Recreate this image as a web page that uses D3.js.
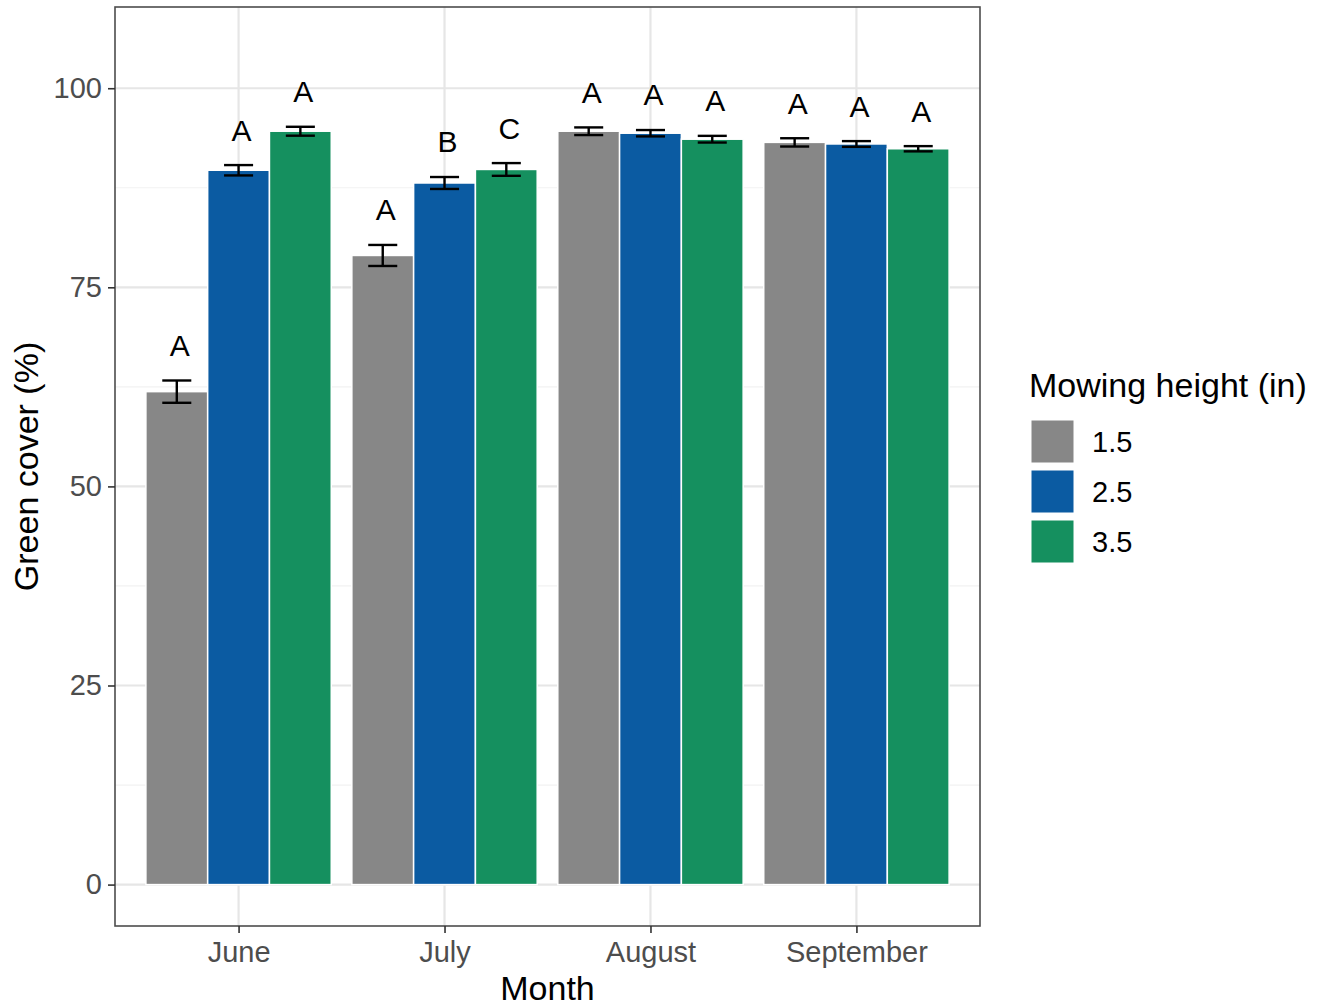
<!DOCTYPE html>
<html>
<head>
<meta charset="utf-8">
<script src="https://cdn.jsdelivr.net/npm/d3@7"></script>
<style>
  html, body { margin: 0; padding: 0; background: #fff; }
  svg { display: block; font-family: "Liberation Sans", Arial, sans-serif; }
</style>
</head>
<body>
<svg id="chart" width="1322" height="1008"></svg>
<script>
// Green cover by month and mowing height (mean ± SE, with letter groupings)
const months = ["June", "July", "August", "September"];
const heights = ["1.5", "2.5", "3.5"];
const colors = ["#878787", "#0B5BA2", "#15905F"];

// mean green cover (%) per height, in month order
const cover15 = [61.9, 79.0, 94.6, 93.2];
const cover25 = [89.7, 88.1, 94.35, 93.0];
const cover35 = [94.6, 89.8, 93.6, 92.4];

// standard errors
const se15 = [1.4, 1.32, 0.48, 0.52];
const se25 = [0.65, 0.75, 0.4, 0.36];
const se35 = [0.56, 0.8, 0.42, 0.33];

// letter groups
const letters15 = ["A", "A", "A", "A"];
const letters25 = ["A", "B", "A", "A"];
const letters35 = ["A", "C", "A", "A"];

const yTicks = [0, 25, 50, 75, 100];
const yMinor = [12.5, 37.5, 62.5, 87.5];

const series = [
  { h: heights[0], mean: cover15, se: se15, lab: letters15 },
  { h: heights[1], mean: cover25, se: se25, lab: letters25 },
  { h: heights[2], mean: cover35, se: se35, lab: letters35 }
];
const rows = [];
series.forEach((s, si) => months.forEach((m, mi) => rows.push({
  month: m, h: s.h, si, mean: s.mean[mi], se: s.se[mi], lab: s.lab[mi]
})));

const svg = d3.select("#chart");
const P = { left: 115, right: 980, top: 7, bottom: 926 };

const x = d3.scalePoint().domain(months).range([P.left, P.right]).padding(0.6);
const step = x.step();
const xi = d3.scaleBand().domain(heights).range([-0.45 * step, 0.45 * step]).padding(0);
const y = d3.scaleLinear().domain([-5.2, 110.2]).range([P.bottom, P.top]);
const color = d3.scaleOrdinal().domain(heights).range(colors);

// grid
const grid = svg.append("g");
grid.selectAll(".minor").data(yMinor).join("line")
  .attr("x1", P.left).attr("x2", P.right)
  .attr("y1", d => y(d)).attr("y2", d => y(d))
  .attr("stroke", "#f2f2f2").attr("stroke-width", 1.2);
grid.selectAll(".major").data(yTicks).join("line")
  .attr("x1", P.left).attr("x2", P.right)
  .attr("y1", d => y(d)).attr("y2", d => y(d))
  .attr("stroke", "#e6e6e6").attr("stroke-width", 2.2);
grid.selectAll(".vmajor").data(months).join("line")
  .attr("y1", P.top).attr("y2", P.bottom)
  .attr("x1", d => x(d)).attr("x2", d => x(d))
  .attr("stroke", "#e6e6e6").attr("stroke-width", 2.2);

// bars
svg.append("g").selectAll("rect").data(rows).join("rect")
  .attr("x", d => x(d.month) + xi(d.h))
  .attr("width", xi.bandwidth())
  .attr("y", d => y(d.mean))
  .attr("height", d => y(0) - y(d.mean))
  .attr("fill", d => color(d.h))
  .attr("stroke", "#ffffff").attr("stroke-width", 1.5);

// error bars
const capHalf = xi.bandwidth() * 0.235;
const eb = svg.append("g").attr("stroke", "#000").attr("stroke-width", 2.4).attr("fill", "none");
rows.forEach(d => {
  const cx = x(d.month) + xi(d.h) + xi.bandwidth() / 2;
  const y1 = y(d.mean + d.se), y0 = y(d.mean - d.se);
  eb.append("line").attr("x1", cx).attr("x2", cx).attr("y1", y1).attr("y2", y0);
  eb.append("line").attr("x1", cx - capHalf).attr("x2", cx + capHalf).attr("y1", y1).attr("y2", y1);
  eb.append("line").attr("x1", cx - capHalf).attr("x2", cx + capHalf).attr("y1", y0).attr("y2", y0);
});

// letters
svg.append("g").selectAll("text").data(rows).join("text")
  .attr("x", d => x(d.month) + xi(d.h) + xi.bandwidth() / 2 + 3)
  .attr("y", d => y(d.mean + d.se + 4.4))
  .attr("text-anchor", "middle").attr("dominant-baseline", "central")
  .attr("font-size", 30).attr("fill", "#000")
  .text(d => d.lab);

// panel border
svg.append("rect")
  .attr("x", P.left).attr("y", P.top)
  .attr("width", P.right - P.left).attr("height", P.bottom - P.top)
  .attr("fill", "none").attr("stroke", "#4d4d4d").attr("stroke-width", 1.6);

// axes
const yAxis = svg.append("g").attr("transform", `translate(${P.left},0)`)
  .call(d3.axisLeft(y).tickValues(yTicks).tickSize(7).tickPadding(6));
const xAxis = svg.append("g").attr("transform", `translate(0,${P.bottom})`)
  .call(d3.axisBottom(x).tickSize(7).tickPadding(8));
[yAxis, xAxis].forEach(a => {
  a.select(".domain").remove();
  a.selectAll(".tick line").attr("stroke", "#333").attr("stroke-width", 1.6);
  a.selectAll(".tick text").attr("fill", "#4d4d4d").attr("font-size", 29)
    .attr("font-family", "Liberation Sans, Arial, sans-serif");
});

// axis titles
svg.append("text").attr("x", (P.left + P.right) / 2).attr("y", 1000)
  .attr("text-anchor", "middle").attr("font-size", 34).attr("fill", "#000").text("Month");
svg.append("text")
  .attr("transform", `translate(38,${(P.top + P.bottom) / 2}) rotate(-90)`)
  .attr("text-anchor", "middle").attr("font-size", 34).attr("fill", "#000").text("Green cover (%)");

// legend
const lg = svg.append("g").attr("transform", "translate(1030,0)");
lg.append("text").attr("x", -1).attr("y", 397).attr("font-size", 34).attr("fill", "#000")
  .text("Mowing height (in)");
heights.forEach((h, i) => {
  const top = 420 + i * 50;
  lg.append("rect").attr("x", 1).attr("y", top).attr("width", 43).attr("height", 43)
    .attr("fill", color(h)).attr("stroke", "#ffffff").attr("stroke-width", 1);
  lg.append("text").attr("x", 62).attr("y", top + 21.5).attr("dominant-baseline", "central")
    .attr("font-size", 29).attr("fill", "#000").text(h);
});
</script>
</body>
</html>
